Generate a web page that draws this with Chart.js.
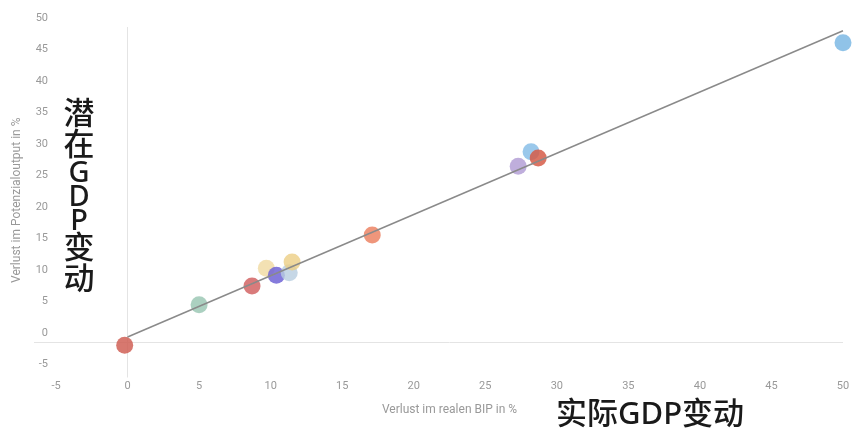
<!DOCTYPE html>
<html>
<head>
  <meta charset="UTF-8">
  <script src="https://cdn.jsdelivr.net/npm/chart.js@4.4.0/dist/chart.umd.min.js"></script>
  <style>
    body { margin: 0; background: #fff; }
    #wrap { position: relative; width: 854px; height: 439px; }
    .note {
      position: absolute;
      font-family: "Noto Sans", "Noto Sans CJK SC", sans-serif;
      font-weight: 500;
      color: #1a1a1a;
      line-height: 1;
    }
    #noteY { left: 62px; top: 97px; width: 34px; font-size: 31px; text-align: center; }
    #noteY span { display: block; }
    #noteY .cjk { height: 31px; }
    #noteY .lat { height: 24px; line-height: 24px; font-size: 29px; }
    #noteX { left: 556px; top: 397px; font-size: 31px; white-space: nowrap; }
  </style>
</head>
<body>
  <div id="wrap">
    <canvas id="myChart"></canvas>
    <div class="note" id="noteY"><span class="cjk">潜</span><span class="cjk">在</span><span class="lat">G</span><span class="lat">D</span><span class="lat">P</span><span class="cjk">变</span><span class="cjk">动</span></div>
    <div class="note" id="noteX">实际GDP变动</div>
  </div>
  <script>
    // Verlust im realen BIP (x) vs. Verlust im Potenzialoutput (y), in %
    const realLoss      = [-0.2, 5.0, 8.7, 9.7, 10.4, 11.3, 11.5, 17.1, 27.3, 28.2, 28.7, 50.0];
    const potentialLoss = [-0.5, 5.9, 8.9, 11.7, 10.6, 11.0, 12.7, 17.0, 27.9, 30.2, 29.2, 47.5];
    const pointColors = [
      'rgba(208,96,86,0.85)', 'rgba(150,196,176,0.8)', 'rgba(210,100,100,0.85)', 'rgba(240,218,160,0.8)',
      'rgba(112,100,214,0.85)', 'rgba(184,205,224,0.8)', 'rgba(236,206,132,0.8)', 'rgba(236,132,100,0.85)',
      'rgba(180,160,214,0.85)', 'rgba(136,190,232,0.85)', 'rgba(214,92,72,0.85)', 'rgba(132,188,230,0.9)'
    ];
    // trend line
    const fitX = [0, 50];
    const fitY = [0.8, 49.4];
    const xMin = -5, xMax = 50, yMin = -5, yMax = 50, step = 5;

    const points = realLoss.map(function(x, i) { return { x: x, y: potentialLoss[i] }; });
    const line = fitX.map(function(x, i) { return { x: x, y: fitY[i] }; });

    const zeroOnly = function(c) { return c.tick && c.tick.value === 0 ? '#e4e4e4' : 'rgba(0,0,0,0)'; };

    Chart.defaults.font.family = 'Roboto';
    Chart.defaults.color = '#999';

    let ctx = document.getElementById('myChart').getContext('2d');
    let chart = new Chart(ctx, {
      type: 'scatter',
      data: {
        datasets: [{
          data: line,
          showLine: true,
          borderColor: '#8a8a8a',
          borderWidth: 1.5,
          pointRadius: 0,
          clip: false
        }, {
          data: points,
          backgroundColor: pointColors,
          borderWidth: 0,
          pointRadius: 8.5,
          pointHoverRadius: 8.5,
          clip: false
        }]
      },
      options: {
        responsive: true,
        maintainAspectRatio: false,
        animation: false,
        layout: { padding: { left: 0, right: 11, top: 27, bottom: 0 } },
        plugins: { legend: { display: false }, tooltip: { enabled: false } },
        scales: {
          x: {
            min: xMin, max: xMax,
            afterFit: function(s) { s.height = 65.5; },
            border: { display: false },
            grid: { color: zeroOnly, tickColor: zeroOnly, tickLength: 4 },
            ticks: { stepSize: step, padding: 2, maxRotation: 0, font: { size: 11 } },
            title: { display: true, text: 'Verlust im realen BIP in %', color: '#999', font: { size: 12 }, padding: { top: 0, bottom: 22 } }
          },
          y: {
            min: yMin, max: yMax,
            afterFit: function(s) { s.width = 56; },
            border: { display: false },
            grid: { color: zeroOnly, tickColor: zeroOnly, tickLength: 22 },
            ticks: { stepSize: step, padding: -14, labelOffset: -9, font: { size: 11 } },
            title: { display: true, text: 'Verlust im Potenzialoutput in %', color: '#999', font: { size: 12 }, padding: { top: 10, bottom: 0 } }
          }
        }
      }
    });
  </script>
</body>
</html>
